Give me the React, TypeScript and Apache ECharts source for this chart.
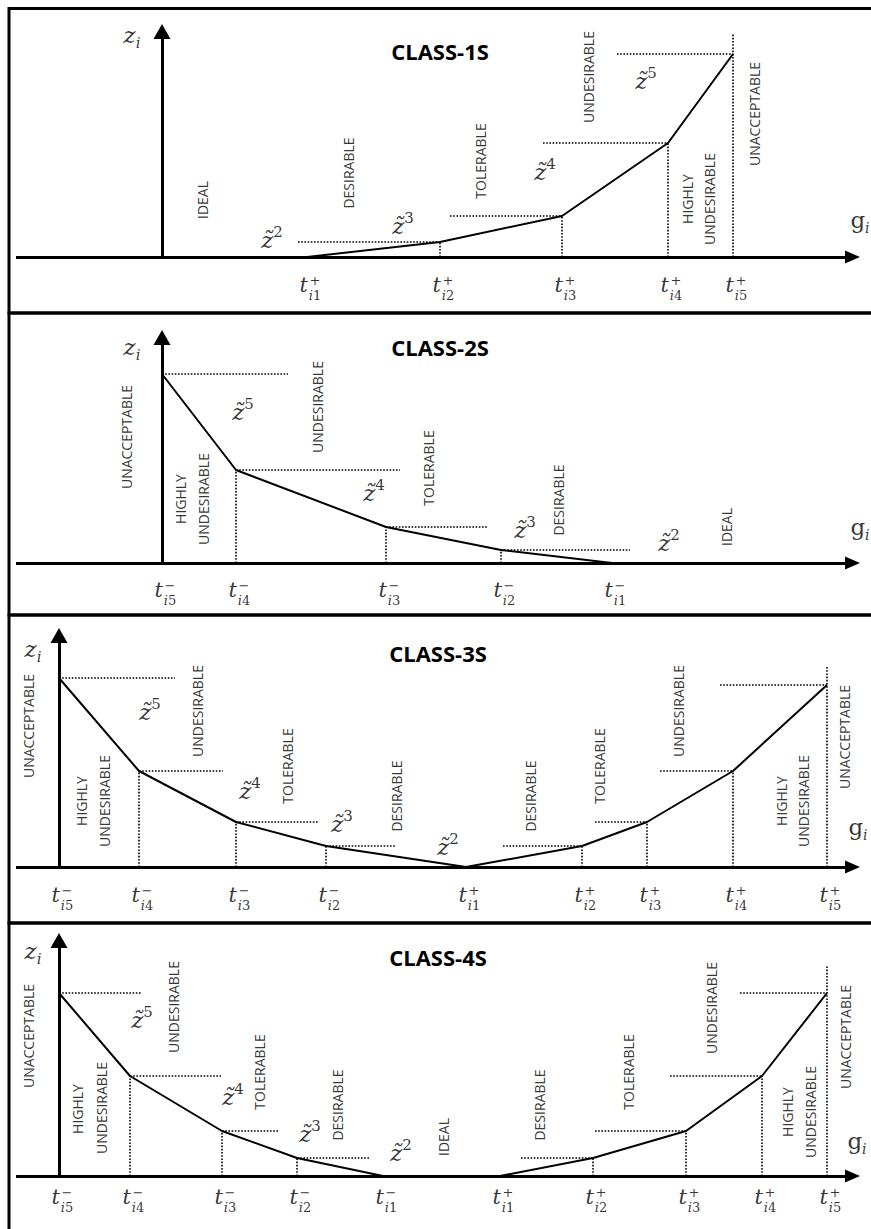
import React, { useEffect, useRef } from "react";
import * as echarts from "echarts";

const W = 871;
const H = 1229;

// ---------- CLASS-1S (units: g along x, z along y) ----------
const c1TPlus = [14.5, 27.8, 40.0, 50.6, 57.1]; // t_i1+ .. t_i5+
const c1Z = [0, 1.5, 4.1, 11.4, 20.3];
const c1GuideFrom = [13.6, 28.8, 38.1, 45.5]; // dotted levels for t2..t5
const c1T5Top = 22.4;
const c1Zones: [string, number, number][] = [
  ["IDEAL", 4.0, 5.7], ["DESIRABLE", 18.6, 8.4], ["TOLERABLE", 31.8, 9.6],
  ["UNDESIRABLE", 42.6, 18.0], ["HIGHLY", 52.5, 5.8], ["UNDESIRABLE", 54.7, 5.8],
  ["UNACCEPTABLE", 59.2, 14.3],
];
const c1ZTilde: [number, number, number][] = [[2, 11.0, 1.7], [3, 24.1, 3.1], [4, 38.3, 8.5], [5, 48.4, 17.6]];

// ---------- CLASS-2S ----------
const c2TMinus = [45.0, 33.9, 22.4, 7.4, 0]; // t_i1- .. t_i5-
const c2Z = [0, 1.3, 3.6, 9.3, 18.9];
const c2GuideTo = [46.8, 32.6, 23.8, 12.6]; // t2..t5
const c2Zones: [string, number, number][] = [
  ["UNACCEPTABLE", -3.6, 12.6], ["HIGHLY", 1.8, 6.4], ["UNDESIRABLE", 4.1, 6.4],
  ["UNDESIRABLE", 15.5, 15.6], ["TOLERABLE", 26.6, 9.5], ["DESIRABLE", 39.6, 6.3],
  ["IDEAL", 56.4, 3.6],
];
const c2ZTilde: [number, number, number][] = [[5, 8.1, 15.1], [4, 21.2, 7.0], [3, 36.3, 3.3], [2, 50.7, 2.0]];

// ---------- CLASS-3S ----------
const c3TMinus = [26.7, 17.7, 8.0, 0]; // t_i2- .. t_i5-
const c3ZMinus = [2.1, 4.5, 9.6, 18.9];
const c3GuideTo = [33.7, 25.9, 16.4, 11.6];
const c3TPlus = [40.7, 52.3, 58.8, 67.4, 76.8]; // t_i1+ .. t_i5+
const c3ZPlus = [0, 2.1, 4.5, 9.6, 18.2];
const c3GuideFrom = [44.4, 53.6, 60.1, 66.1];
const c3T5Top = 20.0;
const c3Zones: [string, number, number][] = [
  ["UNACCEPTABLE", -3.1, 14.1], ["HIGHLY", 2.2, 6.6], ["UNDESIRABLE", 4.5, 6.6],
  ["UNDESIRABLE", 13.8, 15.6], ["TOLERABLE", 22.8, 10.1], ["DESIRABLE", 33.7, 7.1],
  ["DESIRABLE", 47.1, 7.1], ["TOLERABLE", 54.0, 10.1], ["UNDESIRABLE", 61.9, 15.6],
  ["HIGHLY", 72.2, 6.6], ["UNDESIRABLE", 74.4, 6.6], ["UNACCEPTABLE", 78.5, 13.0],
];
const c3ZTilde: [number, number, number][] = [[5, 9.1, 15.5], [4, 19.1, 7.6], [3, 28.3, 4.3], [2, 38.9, 2.0]];

// ---------- CLASS-4S ----------
const c4TMinus = [32.4, 23.8, 16.3, 7.1, 0]; // t_i1- .. t_i5-
const c4ZMinus = [0, 1.8, 4.5, 10.0, 18.3];
const c4GuideTo = [31.1, 22.0, 16.2, 8.2];
const c4TPlus = [44.1, 53.4, 62.7, 70.3, 76.8];
const c4ZPlus = [0, 1.8, 4.5, 10.0, 18.3];
const c4GuideFrom = [46.2, 53.6, 61.1, 68.1];
const c4T5Top = 21.1;
const c4Zones: [string, number, number][] = [
  ["UNACCEPTABLE", -3.1, 14.0], ["HIGHLY", 1.8, 6.7], ["UNDESIRABLE", 4.2, 6.8],
  ["UNDESIRABLE", 11.4, 16.9], ["TOLERABLE", 20.0, 10.4], ["DESIRABLE", 27.8, 7.1],
  ["IDEAL", 38.4, 3.9], ["DESIRABLE", 48.0, 7.1], ["TOLERABLE", 56.9, 10.4],
  ["UNDESIRABLE", 65.2, 16.8], ["HIGHLY", 72.8, 6.4], ["UNDESIRABLE", 75.1, 6.4],
  ["UNACCEPTABLE", 78.6, 13.9],
];
const c4ZTilde: [number, number, number][] = [[5, 8.3, 15.6], [4, 17.4, 7.9], [3, 25.1, 4.2], [2, 34.2, 2.3]];

const MINUS = "\u2212";

type Spec = {
  title: string; titleX: number; titleY: number;
  top: number; bottom: number; ox: number; oy: number;
  xStart: number; xTip: number; yTip: number;
  curve: number[][];
  hGuides: number[][]; // [x1, x2, z]
  vGuides: number[][]; // [x, z1, z2]
  ticks: [number, string, number][];
  tickY: number;
  zones: [string, number, number][];
  zt: [number, number, number][];
  zi: number[]; gi: number[];
};

const specs: Spec[] = [
  {
    title: "CLASS-1S", titleX: 440, titleY: 51,
    top: 8.5, bottom: 313, ox: 162, oy: 257,
    xStart: -14.6, xTip: 69.8, yTip: 23.3,
    curve: c1TPlus.map((t, k) => [t, c1Z[k]]),
    hGuides: c1GuideFrom.map((f, k) => [f, c1TPlus[k + 1], c1Z[k + 1]]),
    vGuides: c1TPlus.slice(1).map((t, k) => [t, 0, k === 3 ? c1T5Top : c1Z[k + 1]]),
    ticks: c1TPlus.map((t, k) => [t, "+", k + 1] as [number, string, number]),
    tickY: -2.8,
    zones: c1Zones, zt: c1ZTilde, zi: [-3.0, 22.2], gi: [69.8, 3.7],
  },
  {
    title: "CLASS-2S", titleX: 440, titleY: 347,
    top: 313, bottom: 615, ox: 162, oy: 563,
    xStart: -14.6, xTip: 69.8, yTip: 23.3,
    curve: c2TMinus.map((t, k) => [t, c2Z[k]]),
    hGuides: c2GuideTo.map((g, k) => [c2TMinus[k + 1], g, c2Z[k + 1]]),
    vGuides: [1, 2, 3].map((k) => [c2TMinus[k], 0, c2Z[k]]),
    ticks: c2TMinus.map((t, k) => [t, MINUS, k + 1] as [number, string, number]),
    tickY: -2.7,
    zones: c2Zones, zt: c2ZTilde, zi: [-3.0, 21.6], gi: [69.8, 3.6],
  },
  {
    title: "CLASS-3S", titleX: 438, titleY: 653,
    top: 615, bottom: 923, ox: 59, oy: 867,
    xStart: -4.3, xTip: 80.1, yTip: 23.9,
    curve: [
      ...c3TMinus.map((t, k) => [t, c3ZMinus[k]]).reverse(),
      ...c3TPlus.map((t, k) => [t, c3ZPlus[k]]),
    ],
    hGuides: [
      ...c3GuideTo.map((g, k) => [c3TMinus[k], g, c3ZMinus[k]]),
      ...c3GuideFrom.map((f, k) => [f, c3TPlus[k + 1], c3ZPlus[k + 1]]),
    ],
    vGuides: [
      ...[0, 1, 2].map((k) => [c3TMinus[k], 0, c3ZMinus[k]]),
      ...c3TPlus.slice(1).map((t, k) => [t, 0, k === 3 ? c3T5Top : c3ZPlus[k + 1]]),
    ],
    ticks: [
      ...c3TMinus.map((t, k) => [t, MINUS, k + 2] as [number, string, number]),
      ...c3TPlus.map((t, k) => [t, "+", k + 1] as [number, string, number]),
    ],
    tickY: -2.8,
    zones: c3Zones, zt: c3ZTilde, zi: [-2.6, 21.8], gi: [79.9, 4.0],
  },
  {
    title: "CLASS-4S", titleX: 438, titleY: 957,
    top: 923, bottom: 1229, ox: 59, oy: 1176,
    xStart: -4.3, xTip: 80.1, yTip: 24.3,
    curve: [
      ...c4TMinus.map((t, k) => [t, c4ZMinus[k]]).reverse(),
      ...c4TPlus.map((t, k) => [t, c4ZPlus[k]]),
    ],
    hGuides: [
      ...c4GuideTo.map((g, k) => [c4TMinus[k + 1], g, c4ZMinus[k + 1]]),
      ...c4GuideFrom.map((f, k) => [f, c4TPlus[k + 1], c4ZPlus[k + 1]]),
    ],
    vGuides: [
      ...[1, 2, 3].map((k) => [c4TMinus[k], 0, c4ZMinus[k]]),
      ...c4TPlus.slice(1).map((t, k) => [t, 0, k === 3 ? c4T5Top : c4ZPlus[k + 1]]),
    ],
    ticks: [
      ...c4TMinus.map((t, k) => [t, MINUS, k + 1] as [number, string, number]),
      ...c4TPlus.map((t, k) => [t, "+", k + 1] as [number, string, number]),
    ],
    tickY: -2.1,
    zones: c4Zones, zt: c4ZTilde, zi: [-2.6, 22.5], gi: [79.8, 3.5],
  },
];

const MATH = "DejaVu Serif";
const SANS = "Open Sans";
const solid = { type: "solid", width: 3, color: "#000" };
const dotted = { type: "dotted", width: 1.6, color: "#000" };

function textSeries(i: number, data: any[], label: any) {
  return {
    type: "scatter",
    xAxisIndex: i,
    yAxisIndex: i,
    symbolSize: 1,
    itemStyle: { color: "transparent" },
    silent: true,
    z: 5,
    data,
    label: { show: true, position: "inside", color: "#000", textBorderWidth: 0, ...label },
  };
}

function buildOption() {
  const grid = specs.map((s) => ({ left: 0, top: s.top, width: W, height: s.bottom - s.top }));
  const xAxis = specs.map((s, i) => ({
    type: "value", gridIndex: i, min: -s.ox / 10, max: (W - s.ox) / 10, show: false,
  }));
  const yAxis = specs.map((s, i) => ({
    type: "value", gridIndex: i, min: -(s.bottom - s.oy) / 10, max: (s.oy - s.top) / 10, show: false,
  }));

  const series: any[] = [];
  specs.forEach((s, i) => {
    const guideLines = [
      ...s.hGuides.map(([x1, x2, z]) => [{ coord: [x1, z], lineStyle: dotted }, { coord: [x2, z] }]),
      ...s.vGuides.map(([x, z1, z2]) => [{ coord: [x, z1], lineStyle: dotted }, { coord: [x, z2] }]),
    ];
    const axisLines = [
      [
        { coord: [s.xStart, 0], symbol: "none", lineStyle: solid },
        { coord: [s.xTip - 0.75, 0], symbol: "triangle", symbolSize: [13, 15] },
      ],
      [
        { coord: [0, 0], symbol: "none", lineStyle: solid },
        { coord: [0, s.yTip - 0.75], symbol: "triangle", symbolSize: [17, 15] },
      ],
    ];
    series.push({
      type: "line",
      xAxisIndex: i,
      yAxisIndex: i,
      data: s.curve,
      showSymbol: false,
      symbol: "none",
      color: "#000",
      itemStyle: { color: "#000" },
      lineStyle: { color: "#000", width: 2 },
      silent: true,
      z: 3,
      markLine: {
        silent: true,
        symbol: ["none", "none"],
        label: { show: false },
        emphasis: { disabled: true },
        data: [...guideLines, ...axisLines],
      },
    });

    // zone labels
    series.push(
      textSeries(
        i,
        s.zones.map(([n, x, y]) => ({ name: n, value: [x, y] })),
        { formatter: "{b}", rotate: 90, fontFamily: SANS, fontSize: 14 }
      )
    );

    // z-tilde labels
    series.push(
      textSeries(
        i,
        s.zt.map(([n, x, y]) => ({ name: String(n), value: [x, y] })),
        {
          formatter: (p: any) => `{z|z\u0303}{s|${p.name}}`,
          rich: {
            z: { fontFamily: MATH, fontStyle: "italic", fontSize: 23, lineHeight: 32, color: "#000" },
            s: { fontFamily: MATH, fontSize: 15, lineHeight: 17, verticalAlign: "top", color: "#000" },
          },
        }
      )
    );

    // tick "t"
    series.push(
      textSeries(
        i,
        s.ticks.map(([x]) => ({ value: [x, s.tickY] })),
        { formatter: "t", fontFamily: MATH, fontStyle: "italic", fontSize: 21, align: "right", offset: [1, 0] }
      )
    );
    // tick scripts
    series.push(
      textSeries(
        i,
        s.ticks.map(([x, sign, idx]) => ({ name: `${sign}|${idx}`, value: [x, s.tickY] })),
        {
          formatter: (p: any) => {
            const [sign, idx] = String(p.name).split("|");
            return `{p|${sign}}\n{s|i}{n|${idx}}`;
          },
          align: "center",
          offset: [8, 3],
          rich: {
            p: { fontFamily: MATH, fontSize: 13, lineHeight: 15, align: "center", color: "#000" },
            s: { fontFamily: MATH, fontStyle: "italic", fontSize: 13, lineHeight: 15, align: "center", color: "#000" },
            n: { fontFamily: MATH, fontSize: 13, lineHeight: 15, align: "center", color: "#000" },
          },
        }
      )
    );

    // axis names
    series.push(
      textSeries(i, [{ value: s.zi }], {
        formatter: "{z|z}{s|i}",
        rich: {
          z: { fontFamily: MATH, fontStyle: "italic", fontSize: 23, lineHeight: 30, color: "#000" },
          s: { fontFamily: MATH, fontStyle: "italic", fontSize: 15, lineHeight: 15, verticalAlign: "bottom", color: "#000" },
        },
      })
    );
    series.push(
      textSeries(i, [{ value: s.gi }], {
        formatter: "{g|g}{s|i}",
        rich: {
          g: { fontFamily: MATH, fontSize: 23, lineHeight: 30, color: "#000" },
          s: { fontFamily: MATH, fontStyle: "italic", fontSize: 14, lineHeight: 14, verticalAlign: "bottom", color: "#000" },
        },
      })
    );
  });

  const frames = [[8.5, 313], [313, 615], [615, 923], [923, 1245]];
  const graphic: any[] = [
    ...frames.map(([t, b]) => ({
      type: "rect",
      silent: true,
      shape: { x: 9, y: t, width: W + 20, height: b - t },
      style: { fill: "none", stroke: "#000", lineWidth: 3 },
    })),
    ...specs.map((s) => ({
      type: "text",
      silent: true,
      x: s.titleX,
      y: s.titleY,
      style: {
        text: s.title,
        fontFamily: SANS,
        fontSize: 22,
        fontWeight: "bold",
        fill: "#000",
        align: "center",
        verticalAlign: "middle",
      },
    })),
  ];

  return {
    animation: false,
    backgroundColor: "#fff",
    tooltip: { show: false },
    grid,
    xAxis,
    yAxis,
    series,
    graphic,
  };
}

export default function App() {
  const ref = useRef<HTMLDivElement>(null);
  useEffect(() => {
    document.body.style.margin = "0";
    const chart = echarts.init(ref.current as HTMLDivElement, undefined, { renderer: "svg" });
    chart.setOption(buildOption() as any);
    return () => chart.dispose();
  }, []);
  return <div ref={ref} style={{ width: W, height: H }} />;
}
